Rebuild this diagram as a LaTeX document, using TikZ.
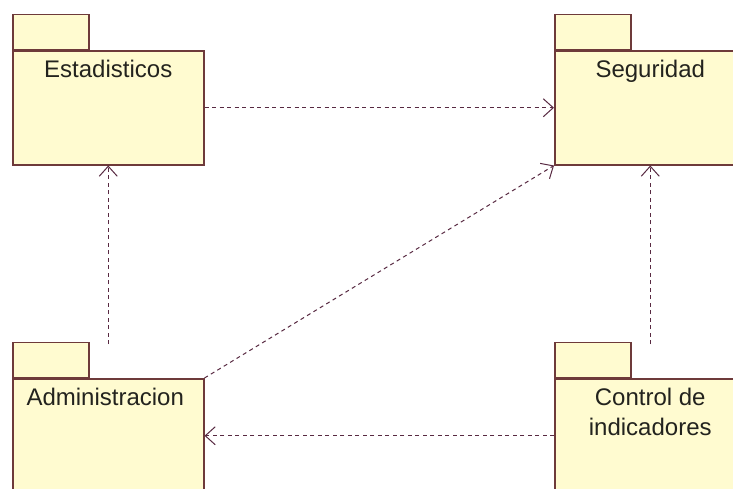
\documentclass[tikz,border=0pt]{standalone}
\usepackage{fontspec}
\setmainfont{Liberation Sans}
\usetikzlibrary{arrows.meta}
\definecolor{pkgfill}{RGB}{255,251,208}
\definecolor{pkgline}{RGB}{110,58,58}
\definecolor{depline}{RGB}{88,42,66}
\definecolor{labeltext}{RGB}{35,35,30}
\begin{document}
\begin{tikzpicture}[x=1pt,y=-1pt,
  pkgbody/.style={draw=pkgline,fill=pkgfill,line width=1.5pt,rectangle,
    minimum width=191pt,minimum height=114pt,inner sep=0pt,anchor=north west},
  pkgtab/.style={draw=pkgline,fill=pkgfill,line width=1.5pt,rectangle,
    minimum width=76pt,minimum height=35pt,inner sep=0pt,anchor=south west},
  pkglabel/.style={font=\fontsize{24}{30}\selectfont,text=labeltext,
    align=center,inner sep=0pt,anchor=base},
  dep/.style={draw=depline,line width=1pt,dash pattern=on 4pt off 3.5pt,
    -{Straight Barb[length=10pt,width=18pt,line width=1pt]}}]
\useasboundingbox (0,0) rectangle (733,488);
\clip (0,0) rectangle (733,488);
\fill[white] (0,0) rectangle (733,488);

% packages: tab first, then body over it
\node[pkgtab]  (esttab) at (12,50)  {};
\node[pkgbody] (est)    at (12,50)  {};
\node[pkgtab]  (segtab) at (554,50) {};
\node[pkgbody] (seg)    at (554,50) {};
\node[pkgtab]  (admtab) at (12,378) {};
\node[pkgbody] (adm)    at (12,378) {};
\node[pkgtab]  (ctltab) at (554,378){};
\node[pkgbody] (ctl)    at (554,378){};

% package names (y axis points down, so a negative shift moves down;
% a two-line label sits on the baseline of its last line)
\node[pkglabel] (estlbl) at ([yshift=-27pt]est.north) {Estadisticos};
\node[pkglabel] (seglbl) at ([yshift=-27pt]seg.north) {Seguridad};
\node[pkglabel] (admlbl) at ([xshift=-3pt,yshift=-27pt]adm.north) {Administracion};
\node[pkglabel] (ctllbl) at ([yshift=-57pt]ctl.north) {Control de\\indicadores};

% dependency lines start level with the top of the tabs
\coordinate (admtop) at ([yshift=34pt]adm.north);
\coordinate (ctltop) at ([yshift=34pt]ctl.north);

\draw[dep] (est.east) -- (seg.west);
\draw[dep] (admtop) -- (est.south);
\draw[dep] (ctltop) -- (seg.south);
\draw[dep] (ctl.west) -- (adm.east);
\draw[dep] (adm.north east) -- (seg.south west);
\end{tikzpicture}
\end{document}
